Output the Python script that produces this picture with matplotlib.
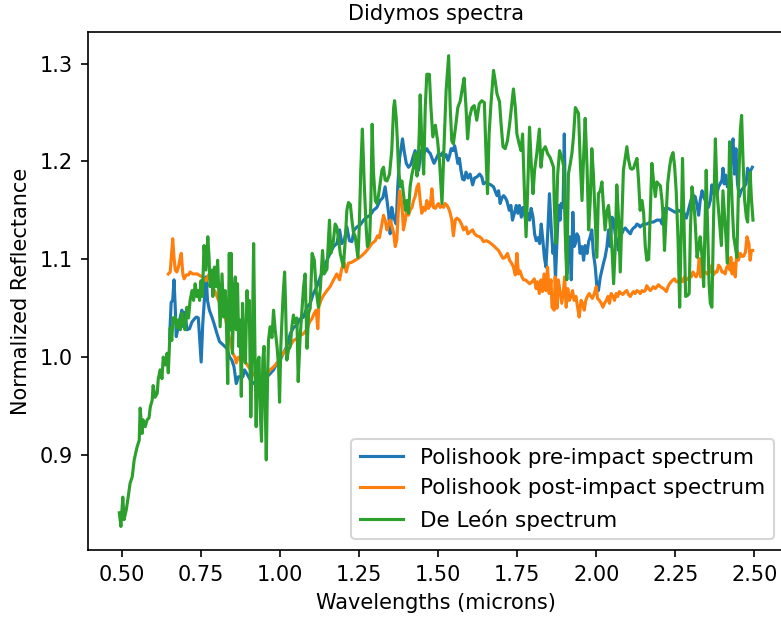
import matplotlib
matplotlib.use("Agg")
import matplotlib.pyplot as plt

# De Leon spectrum (wavelength in microns, normalized reflectance)
deleon_wl = [
    0.491, 0.496, 0.502, 0.506, 0.513, 0.519, 0.525, 0.532, 0.538, 0.547,
    0.554, 0.557, 0.563, 0.566, 0.573, 0.579, 0.585, 0.589, 0.595, 0.598,
    0.604, 0.611, 0.614, 0.620, 0.626, 0.630, 0.636, 0.642, 0.646, 0.652,
    0.657, 0.661, 0.668, 0.673, 0.678, 0.684, 0.689, 0.694, 0.699, 0.705,
    0.710, 0.715, 0.721, 0.726, 0.731, 0.736, 0.741, 0.745, 0.749, 0.754,
    0.759, 0.765, 0.771, 0.775, 0.778, 0.784, 0.787, 0.792, 0.797, 0.802,
    0.807, 0.810, 0.816, 0.821, 0.826, 0.829, 0.834, 0.839, 0.842, 0.845,
    0.849, 0.853, 0.858, 0.861, 0.865, 0.869, 0.873, 0.877, 0.881, 0.886,
    0.890, 0.895, 0.899, 0.902, 0.907, 0.911, 0.916, 0.920, 0.924, 0.928,
    0.933, 0.937, 0.941, 0.945, 0.949, 0.956, 0.960, 0.963, 0.968, 0.974,
    0.979, 0.984, 0.990, 0.995, 0.998, 1.002, 1.009, 1.014, 1.017, 1.021,
    1.026, 1.032, 1.037, 1.042, 1.047, 1.053, 1.057, 1.063, 1.074, 1.079,
    1.085, 1.090, 1.095, 1.101, 1.108, 1.114, 1.121, 1.127, 1.134, 1.139,
    1.148, 1.156, 1.160, 1.167, 1.174, 1.179, 1.185, 1.190, 1.195, 1.200,
    1.206, 1.211, 1.216, 1.222, 1.227, 1.232, 1.237, 1.243, 1.246, 1.250,
    1.255, 1.260, 1.266, 1.272, 1.276, 1.283, 1.287, 1.291, 1.295, 1.301,
    1.306, 1.311, 1.322, 1.327, 1.332, 1.338, 1.346, 1.353, 1.359, 1.362,
    1.367, 1.371, 1.374, 1.380, 1.385, 1.390, 1.396, 1.401, 1.406, 1.411,
    1.417, 1.422, 1.427, 1.433, 1.436, 1.440, 1.443, 1.448, 1.454, 1.459,
    1.464, 1.472, 1.477, 1.483, 1.491, 1.498, 1.504, 1.512, 1.519, 1.525,
    1.533, 1.538, 1.543, 1.548, 1.556, 1.562, 1.570, 1.577, 1.582, 1.588,
    1.593, 1.599, 1.607, 1.614, 1.622, 1.630, 1.638, 1.646, 1.652, 1.656,
    1.661, 1.667, 1.675, 1.680, 1.686, 1.694, 1.699, 1.705, 1.712, 1.719,
    1.726, 1.733, 1.738, 1.744, 1.749, 1.756, 1.762, 1.767, 1.772, 1.778,
    1.783, 1.789, 1.794, 1.800, 1.805, 1.812, 1.820, 1.825, 1.831, 1.839,
    1.846, 1.854, 1.865, 1.867, 1.872, 1.878, 1.884, 1.891, 1.897, 1.902,
    1.907, 1.912, 1.918, 1.923, 1.928, 1.934, 1.939, 1.944, 1.949, 1.955,
    1.960, 1.965, 1.971, 1.976, 1.981, 1.986, 1.991, 1.997, 2.002, 2.007,
    2.013, 2.018, 2.023, 2.028, 2.034, 2.039, 2.044, 2.050, 2.055, 2.060,
    2.065, 2.071, 2.076, 2.081, 2.086, 2.092, 2.097, 2.102, 2.108, 2.113,
    2.118, 2.123, 2.129, 2.134, 2.139, 2.145, 2.150, 2.155, 2.160, 2.166,
    2.171, 2.176, 2.181, 2.187, 2.192, 2.197, 2.203, 2.208, 2.213, 2.216,
    2.222, 2.226, 2.232, 2.237, 2.243, 2.248, 2.253, 2.259, 2.264, 2.269,
    2.273, 2.278, 2.283, 2.289, 2.294, 2.298, 2.303, 2.308, 2.312, 2.319,
    2.324, 2.329, 2.335, 2.340, 2.344, 2.348, 2.352, 2.357, 2.361, 2.366,
    2.371, 2.377, 2.382, 2.387, 2.392, 2.396, 2.401, 2.406, 2.411, 2.415,
    2.419, 2.422, 2.426, 2.430, 2.435, 2.440, 2.445, 2.450, 2.456, 2.460,
    2.464, 2.469, 2.475, 2.479, 2.483, 2.487, 2.491, 2.496,
]
deleon_refl = [
    0.841, 0.827, 0.857, 0.834, 0.844, 0.857, 0.871, 0.878, 0.895, 0.908,
    0.915, 0.948, 0.922, 0.936, 0.929, 0.936, 0.938, 0.949, 0.956, 0.971,
    0.959, 0.963, 0.977, 0.987, 0.978, 1.000, 0.992, 1.004, 0.984, 1.030,
    1.017, 1.040, 1.041, 1.030, 1.038, 1.028, 1.045, 1.035, 1.028, 1.051,
    1.040, 1.058, 1.068, 1.058, 1.075, 1.062, 1.068, 1.058, 1.078, 1.062,
    1.114, 1.089, 1.123, 1.102, 1.072, 1.089, 1.062, 1.092, 1.072, 1.099,
    1.055, 1.031, 1.085, 1.041, 1.068, 1.048, 0.973, 1.106, 1.028, 1.106,
    1.004, 1.058, 1.082, 1.028, 1.075, 1.011, 1.038, 0.960, 1.055, 1.007,
    0.994, 1.068, 1.038, 1.058, 0.939, 0.997, 1.116, 1.011, 0.929, 0.994,
    1.000, 0.943, 0.914, 0.997, 1.011, 0.895, 0.977, 1.017, 1.031, 1.020,
    1.048, 1.028, 1.011, 0.990, 0.954, 1.011, 1.062, 1.087, 1.055, 0.997,
    1.007, 1.011, 1.031, 1.043, 1.035, 1.040, 0.975, 1.020, 1.072, 1.085,
    1.009, 1.045, 1.050, 1.106, 1.099, 1.068, 1.051, 1.070, 1.109, 1.085,
    1.090, 1.140, 1.106, 1.115, 1.136, 1.133, 1.120, 1.106, 1.099, 1.092,
    1.120, 1.150, 1.158, 1.156, 1.140, 1.127, 1.124, 1.109, 1.102, 1.130,
    1.191, 1.233, 1.177, 1.133, 1.113, 1.119, 1.160, 1.238, 1.190, 1.160,
    1.157, 1.165, 1.191, 1.194, 1.181, 1.180, 1.187, 1.211, 1.255, 1.262,
    1.245, 1.220, 1.194, 1.174, 1.180, 1.167, 1.150, 1.160, 1.147, 1.174,
    1.187, 1.194, 1.208, 1.185, 1.194, 1.228, 1.268, 1.221, 1.187, 1.255,
    1.289, 1.289, 1.255, 1.225, 1.237, 1.221, 1.201, 1.157, 1.221, 1.272,
    1.308, 1.255, 1.221, 1.218, 1.238, 1.255, 1.262, 1.276, 1.285, 1.255,
    1.223, 1.245, 1.255, 1.257, 1.242, 1.259, 1.262, 1.260, 1.201, 1.167,
    1.228, 1.259, 1.293, 1.283, 1.269, 1.261, 1.238, 1.215, 1.213, 1.221,
    1.238, 1.259, 1.274, 1.255, 1.228, 1.218, 1.211, 1.228, 1.177, 1.123,
    1.170, 1.235, 1.200, 1.167, 1.191, 1.208, 1.233, 1.194, 1.211, 1.215,
    1.208, 1.204, 1.194, 1.160, 1.116, 1.187, 1.211, 1.204, 1.195, 1.126,
    1.079, 1.187, 1.198, 1.208, 1.225, 1.255, 1.252, 1.249, 1.204, 1.160,
    1.204, 1.244, 1.194, 1.130, 1.160, 1.213, 1.187, 1.140, 1.102, 1.167,
    1.170, 1.179, 1.153, 1.130, 1.150, 1.155, 1.136, 1.110, 1.075, 1.110,
    1.176, 1.140, 1.087, 1.140, 1.191, 1.204, 1.215, 1.202, 1.193, 1.192,
    1.193, 1.198, 1.203, 1.180, 1.150, 1.160, 1.147, 1.114, 1.099, 1.100,
    1.147, 1.198, 1.181, 1.164, 1.179, 1.177, 1.175, 1.160, 1.138, 1.109,
    1.150, 1.177, 1.194, 1.204, 1.209, 1.195, 1.170, 1.119, 1.051, 1.130,
    1.203, 1.130, 1.062, 1.063, 1.065, 1.130, 1.174, 1.160, 1.144, 1.102,
    1.112, 1.123, 1.102, 1.072, 1.130, 1.191, 1.137, 1.075, 1.055, 1.051,
    1.137, 1.223, 1.170, 1.150, 1.130, 1.114, 1.170, 1.145, 1.120, 1.096,
    1.170, 1.220, 1.190, 1.157, 1.123, 1.113, 1.102, 1.170, 1.232, 1.247,
    1.206, 1.162, 1.143, 1.138, 1.170, 1.189, 1.162, 1.140,
]

# Polishook pre-impact spectrum
pre_wl = [
    0.650, 0.655, 0.660, 0.664, 0.668, 0.671, 0.678, 0.684, 0.689, 0.694,
    0.699, 0.705, 0.713, 0.721, 0.726, 0.731, 0.736, 0.741, 0.747, 0.750,
    0.755, 0.763, 0.766, 0.770, 0.776, 0.784, 0.791, 0.800, 0.808, 0.821,
    0.831, 0.840, 0.847, 0.854, 0.861, 0.868, 0.876, 0.882, 0.887, 0.893,
    0.900, 0.905, 0.914, 0.921, 0.928, 0.934, 0.942, 0.949, 0.958, 0.968,
    0.979, 0.990, 1.000, 1.010, 1.021, 1.032, 1.042, 1.053, 1.063, 1.074,
    1.085, 1.095, 1.105, 1.116, 1.127, 1.137, 1.148, 1.158, 1.169, 1.179,
    1.188, 1.195, 1.203, 1.211, 1.219, 1.227, 1.234, 1.243, 1.253, 1.264,
    1.274, 1.285, 1.295, 1.306, 1.316, 1.325, 1.332, 1.338, 1.343, 1.348,
    1.353, 1.359, 1.367, 1.372, 1.378, 1.383, 1.387, 1.392, 1.399, 1.406,
    1.414, 1.420, 1.427, 1.433, 1.438, 1.443, 1.448, 1.454, 1.459, 1.464,
    1.469, 1.475, 1.483, 1.487, 1.494, 1.501, 1.509, 1.514, 1.519, 1.525,
    1.531, 1.536, 1.541, 1.547, 1.552, 1.557, 1.562, 1.567, 1.572, 1.577,
    1.582, 1.588, 1.594, 1.601, 1.609, 1.615, 1.622, 1.631, 1.638, 1.643,
    1.652, 1.659, 1.667, 1.675, 1.680, 1.686, 1.691, 1.696, 1.702, 1.707,
    1.712, 1.717, 1.725, 1.730, 1.735, 1.741, 1.747, 1.752, 1.757, 1.763,
    1.768, 1.773, 1.778, 1.784, 1.789, 1.794, 1.800, 1.805, 1.810, 1.816,
    1.821, 1.826, 1.831, 1.836, 1.841, 1.847, 1.852, 1.858, 1.863, 1.867,
    1.871, 1.876, 1.881, 1.886, 1.889, 1.895, 1.899, 1.903, 1.907, 1.912,
    1.916, 1.921, 1.926, 1.930, 1.934, 1.939, 1.944, 1.949, 1.955, 1.960,
    1.965, 1.971, 1.976, 1.981, 1.986, 1.991, 1.997, 2.002, 2.007, 2.013,
    2.018, 2.023, 2.028, 2.034, 2.039, 2.044, 2.050, 2.055, 2.060, 2.065,
    2.071, 2.076, 2.081, 2.086, 2.092, 2.097, 2.102, 2.108, 2.113, 2.118,
    2.123, 2.129, 2.134, 2.139, 2.145, 2.150, 2.160, 2.171, 2.181, 2.192,
    2.203, 2.208, 2.213, 2.218, 2.228, 2.239, 2.250, 2.260, 2.271, 2.278,
    2.285, 2.290, 2.297, 2.303, 2.308, 2.313, 2.319, 2.324, 2.329, 2.335,
    2.340, 2.345, 2.350, 2.355, 2.361, 2.366, 2.371, 2.377, 2.382, 2.387,
    2.392, 2.398, 2.401, 2.405, 2.410, 2.415, 2.420, 2.424, 2.429, 2.433,
    2.437, 2.442, 2.447, 2.453, 2.458, 2.463, 2.468, 2.474, 2.479, 2.484,
    2.489, 2.494,
]
pre_refl = [
    1.019, 1.056, 1.058, 1.079, 1.051, 1.021, 1.031, 1.041, 1.048, 1.031,
    1.046, 1.028, 1.029, 1.036, 1.038, 1.040, 1.041, 1.040, 1.011, 0.995,
    1.034, 1.072, 1.082, 1.058, 1.048, 1.041, 1.034, 1.024, 1.016, 1.012,
    1.009, 1.000, 0.997, 0.990, 0.973, 0.980, 0.980, 0.980, 0.987, 0.984,
    0.980, 0.977, 0.973, 0.975, 0.968, 0.970, 0.970, 0.973, 0.980, 0.983,
    0.987, 0.994, 0.997, 1.004, 1.011, 1.024, 1.030, 1.033, 1.039, 1.041,
    1.051, 1.055, 1.065, 1.072, 1.082, 1.089, 1.099, 1.106, 1.113, 1.116,
    1.130, 1.116, 1.120, 1.133, 1.119, 1.118, 1.130, 1.133, 1.135, 1.140,
    1.143, 1.145, 1.150, 1.153, 1.160, 1.163, 1.174, 1.160, 1.147, 1.126,
    1.153, 1.143, 1.136, 1.174, 1.204, 1.214, 1.223, 1.211, 1.198, 1.194,
    1.197, 1.204, 1.211, 1.200, 1.191, 1.204, 1.212, 1.207, 1.211, 1.213,
    1.210, 1.208, 1.201, 1.198, 1.203, 1.208, 1.206, 1.209, 1.204, 1.207,
    1.201, 1.206, 1.213, 1.211, 1.216, 1.208, 1.198, 1.203, 1.191, 1.182,
    1.181, 1.189, 1.183, 1.187, 1.176, 1.183, 1.184, 1.187, 1.184, 1.177,
    1.179, 1.177, 1.176, 1.174, 1.170, 1.165, 1.170, 1.157, 1.163, 1.165,
    1.163, 1.160, 1.150, 1.155, 1.140, 1.147, 1.155, 1.147, 1.155, 1.143,
    1.153, 1.147, 1.138, 1.147, 1.140, 1.152, 1.143, 1.126, 1.119, 1.122,
    1.116, 1.136, 1.120, 1.102, 1.092, 1.130, 1.167, 1.130, 1.106, 1.115,
    1.080, 1.120, 1.155, 1.140, 1.157, 1.153, 1.228, 1.140, 1.085, 1.110,
    1.123, 1.079, 1.148, 1.113, 1.116, 1.126, 1.123, 1.106, 1.113, 1.099,
    1.114, 1.106, 1.118, 1.123, 1.130, 1.106, 1.092, 1.072, 1.068, 1.082,
    1.089, 1.096, 1.102, 1.113, 1.130, 1.113, 1.143, 1.140, 1.126, 1.119,
    1.109, 1.123, 1.126, 1.130, 1.132, 1.130, 1.128, 1.126, 1.130, 1.132,
    1.133, 1.136, 1.135, 1.133, 1.135, 1.136, 1.136, 1.138, 1.138, 1.140,
    1.140, 1.136, 1.148, 1.152, 1.152, 1.150, 1.148, 1.150, 1.148, 1.147,
    1.142, 1.148, 1.157, 1.164, 1.165, 1.164, 1.155, 1.145, 1.160, 1.170,
    1.164, 1.160, 1.157, 1.153, 1.160, 1.176, 1.167, 1.170, 1.167, 1.174,
    1.177, 1.181, 1.193, 1.177, 1.186, 1.174, 1.177, 1.187, 1.216, 1.223,
    1.187, 1.213, 1.177, 1.164, 1.170, 1.172, 1.174, 1.177, 1.193, 1.187,
    1.191, 1.194,
]

# Polishook post-impact spectrum
post_wl = [
    0.646, 0.652, 0.657, 0.660, 0.664, 0.668, 0.673, 0.678, 0.684, 0.687,
    0.692, 0.696, 0.703, 0.710, 0.715, 0.724, 0.731, 0.738, 0.747, 0.756,
    0.766, 0.775, 0.785, 0.794, 0.805, 0.816, 0.826, 0.836, 0.844, 0.850,
    0.858, 0.861, 0.868, 0.876, 0.884, 0.892, 0.900, 0.907, 0.916, 0.926,
    0.937, 0.947, 0.958, 0.968, 0.979, 0.990, 1.000, 1.010, 1.021, 1.032,
    1.042, 1.053, 1.063, 1.074, 1.085, 1.093, 1.100, 1.108, 1.114, 1.119,
    1.122, 1.129, 1.137, 1.148, 1.158, 1.169, 1.179, 1.188, 1.195, 1.203,
    1.209, 1.216, 1.227, 1.237, 1.248, 1.259, 1.269, 1.279, 1.290, 1.301,
    1.308, 1.314, 1.322, 1.327, 1.332, 1.338, 1.343, 1.348, 1.353, 1.359,
    1.364, 1.369, 1.374, 1.378, 1.383, 1.387, 1.390, 1.396, 1.401, 1.406,
    1.411, 1.417, 1.422, 1.427, 1.433, 1.438, 1.443, 1.448, 1.454, 1.459,
    1.464, 1.469, 1.475, 1.480, 1.485, 1.491, 1.496, 1.501, 1.506, 1.512,
    1.517, 1.522, 1.528, 1.533, 1.538, 1.543, 1.548, 1.554, 1.559, 1.567,
    1.575, 1.580, 1.588, 1.594, 1.601, 1.609, 1.615, 1.622, 1.631, 1.638,
    1.643, 1.652, 1.659, 1.667, 1.675, 1.684, 1.691, 1.696, 1.705, 1.712,
    1.719, 1.726, 1.732, 1.738, 1.744, 1.749, 1.754, 1.759, 1.765, 1.770,
    1.776, 1.783, 1.789, 1.797, 1.804, 1.810, 1.814, 1.820, 1.825, 1.830,
    1.835, 1.841, 1.846, 1.851, 1.857, 1.860, 1.867, 1.870, 1.876, 1.880,
    1.884, 1.891, 1.897, 1.900, 1.905, 1.910, 1.915, 1.920, 1.925, 1.930,
    1.936, 1.941, 1.946, 1.952, 1.957, 1.962, 1.967, 1.972, 1.978, 1.983,
    1.988, 1.994, 2.000, 2.004, 2.010, 2.016, 2.021, 2.026, 2.032, 2.037,
    2.042, 2.047, 2.053, 2.058, 2.063, 2.068, 2.073, 2.079, 2.084, 2.092,
    2.097, 2.102, 2.108, 2.113, 2.118, 2.123, 2.129, 2.134, 2.139, 2.145,
    2.150, 2.155, 2.160, 2.166, 2.171, 2.176, 2.181, 2.187, 2.192, 2.197,
    2.203, 2.208, 2.213, 2.222, 2.227, 2.232, 2.237, 2.243, 2.248, 2.253,
    2.259, 2.264, 2.269, 2.274, 2.279, 2.285, 2.290, 2.295, 2.301, 2.306,
    2.311, 2.316, 2.322, 2.326, 2.330, 2.335, 2.340, 2.345, 2.350, 2.355,
    2.361, 2.366, 2.371, 2.377, 2.382, 2.387, 2.392, 2.398, 2.403, 2.408,
    2.413, 2.419, 2.423, 2.426, 2.430, 2.435, 2.440, 2.445, 2.450, 2.456,
    2.461, 2.466, 2.472, 2.477, 2.483, 2.487, 2.491, 2.495,
]
post_refl = [
    1.085, 1.087, 1.109, 1.121, 1.102, 1.089, 1.087, 1.092, 1.102, 1.106,
    1.085, 1.080, 1.084, 1.084, 1.087, 1.085, 1.085, 1.085, 1.083, 1.082,
    1.078, 1.085, 1.072, 1.067, 1.058, 1.053, 1.041, 1.024, 1.014, 1.004,
    0.999, 0.994, 1.000, 0.997, 0.997, 0.994, 0.990, 0.987, 0.982, 0.980,
    0.978, 0.980, 0.982, 0.987, 0.990, 0.994, 0.999, 1.004, 1.009, 1.012,
    1.017, 1.019, 1.022, 1.024, 1.029, 1.036, 1.039, 1.045, 1.048, 1.029,
    1.051, 1.058, 1.063, 1.068, 1.072, 1.079, 1.085, 1.079, 1.091, 1.096,
    1.087, 1.096, 1.097, 1.099, 1.101, 1.104, 1.107, 1.111, 1.116, 1.119,
    1.124, 1.122, 1.136, 1.145, 1.140, 1.130, 1.136, 1.140, 1.134, 1.127,
    1.113, 1.120, 1.150, 1.170, 1.160, 1.147, 1.130, 1.140, 1.153, 1.145,
    1.150, 1.153, 1.160, 1.164, 1.174, 1.177, 1.160, 1.147, 1.153, 1.150,
    1.160, 1.152, 1.155, 1.172, 1.153, 1.152, 1.155, 1.157, 1.153, 1.155,
    1.153, 1.157, 1.155, 1.152, 1.147, 1.140, 1.124, 1.140, 1.142, 1.140,
    1.135, 1.130, 1.133, 1.126, 1.128, 1.130, 1.126, 1.124, 1.123, 1.121,
    1.118, 1.119, 1.118, 1.116, 1.114, 1.111, 1.109, 1.106, 1.101, 1.102,
    1.106, 1.099, 1.096, 1.092, 1.084, 1.106, 1.085, 1.088, 1.082, 1.079,
    1.079, 1.077, 1.075, 1.077, 1.080, 1.070, 1.077, 1.065, 1.079, 1.067,
    1.085, 1.068, 1.092, 1.065, 1.079, 1.051, 1.048, 1.082, 1.050, 1.079,
    1.070, 1.055, 1.070, 1.082, 1.051, 1.070, 1.058, 1.062, 1.068, 1.058,
    1.062, 1.051, 1.041, 1.058, 1.055, 1.048, 1.058, 1.062, 1.065, 1.062,
    1.060, 1.065, 1.072, 1.060, 1.058, 1.055, 1.051, 1.055, 1.058, 1.062,
    1.055, 1.065, 1.062, 1.058, 1.065, 1.062, 1.067, 1.065, 1.064, 1.067,
    1.068, 1.064, 1.062, 1.065, 1.067, 1.065, 1.068, 1.067, 1.065, 1.068,
    1.067, 1.068, 1.073, 1.070, 1.068, 1.070, 1.072, 1.070, 1.072, 1.074,
    1.072, 1.071, 1.070, 1.067, 1.072, 1.075, 1.077, 1.079, 1.080, 1.077,
    1.077, 1.079, 1.080, 1.077, 1.082, 1.079, 1.080, 1.082, 1.082, 1.087,
    1.084, 1.082, 1.087, 1.101, 1.082, 1.088, 1.087, 1.087, 1.085, 1.087,
    1.087, 1.094, 1.084, 1.087, 1.087, 1.094, 1.092, 1.087, 1.087, 1.085,
    1.092, 1.094, 1.089, 1.102, 1.085, 1.096, 1.082, 1.109, 1.099, 1.106,
    1.103, 1.103, 1.107, 1.123, 1.116, 1.099, 1.109, 1.109,
]

fig = plt.figure(figsize=(781 / 150, 618 / 150), dpi=150)
ax = fig.add_axes([0.1122, 0.110, 0.8925, 0.838])

ax.plot(pre_wl, pre_refl, label="Polishook pre-impact spectrum")
ax.plot(post_wl, post_refl, label="Polishook post-impact spectrum")
ax.plot(deleon_wl, deleon_refl, label="De León spectrum")

ax.set_title("Didymos spectra", fontsize=10)
ax.set_xlabel("Wavelengths (microns)")
ax.set_ylabel("Normalized Reflectance")
ax.legend(loc="lower right", fontsize=10.3)

fig.savefig("out.png", dpi=150)
